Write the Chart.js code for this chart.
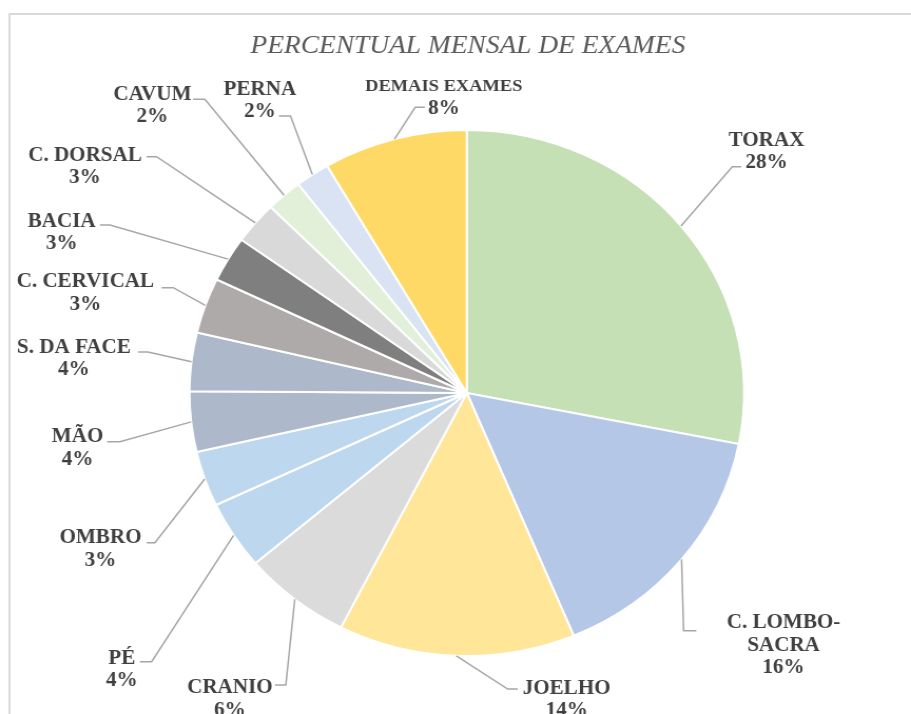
<!DOCTYPE html>
<html>
<head>
<meta charset="utf-8">
<script src="https://cdn.jsdelivr.net/npm/chart.js@4/dist/chart.umd.min.js"></script>
<style>
  html, body { margin: 0; padding: 0; background: #fff; overflow: hidden; }
  #wrap { width: 864px; height: 714px; transform: scaleX(1.0544); transform-origin: 0 0; }
  canvas { display: block; }
</style>
</head>
<body>
<div id="wrap"><canvas id="c" width="864" height="714"></canvas></div>
<script>
// ---- data ----
const titleText = 'PERCENTUAL MENSAL DE EXAMES';
const categories = ['TORAX', 'C. LOMBO-SACRA', 'JOELHO', 'CRANIO', 'PÉ', 'OMBRO', 'MÃO',
  'S. DA FACE', 'C. CERVICAL', 'BACIA', 'C. DORSAL', 'CAVUM', 'PERNA', 'DEMAIS EXAMES'];
const values = [28.1, 15.6, 13.8, 6.3, 4.2, 3.4, 3.7, 3.6, 3.4, 2.8, 2.6, 2.1, 2.0, 8.4];
const colors = ['#C5E0B4', '#B4C7E7', '#FFE699', '#DBDBDB', '#BDD7EE', '#BDD7EE', '#ADB9CA',
  '#ADB9CA', '#AEAAAA', '#7F7F7F', '#D9D9D9', '#E2F0D9', '#DAE3F3', '#FFD966'];

// ---- label layout (offsets from pie centre, px) ----
const labelLayout = [
  {lx: 284.3, ly: -254, ex: 260.3, ey: -226.3, bx: 251.8},
  {lx: 300.4, ly: 228.7, ex: 217.7, ey: 237.7, bx: 205.6, wrap: true},
  {lx: 94.7, ly: 294, ex: 48.3, ey: 296, bx: 38.8},
  {lx: -224.7, ly: 293.7, ex: -182, ey: 292, bx: -171.6},
  {lx: -327.1, ly: 264, ex: -310, ey: 268.7, bx: -298.9},
  {lx: -347.4, ly: 143.7, ex: -303.6, ey: 149.7, bx: -295.8},
  {lx: -369.2, ly: 42.5, ex: -341, ey: 48.7, bx: -329},
  {lx: -372.6, ly: -47, ex: -311.6, ey: -41, bx: -302.4},
  {lx: -361.8, ly: -112.3, ex: -289.4, ey: -105.3, bx: -278.4},
  {lx: -384.2, ly: -172.7, ex: -347.9, ey: -168, bx: -338.4},
  {lx: -362.1, ly: -239, ex: -303.6, ey: -236.3, bx: -294.2},
  {lx: -298.2, ly: -299.7, ex: -259.5, ey: -293.7, bx: -248.4},
  {lx: -196.3, ly: -304.7, ex: -178.2, ey: -277, bx: -167.2},
  {lx: -21.8, ly: -307.7, ex: -39.9, ey: -285.7, bx: -48.9, size: 17.5}
];

const total = values.reduce((a, b) => a + b, 0);

const decor = {
  id: 'decor',
  beforeDraw(chart) {
    const ctx = chart.ctx;
    ctx.save();
    ctx.strokeStyle = '#D9D9D9';
    ctx.lineWidth = 2;
    ctx.beginPath();
    ctx.moveTo(9, 800);
    ctx.lineTo(9, 14);
    ctx.lineTo(900, 14);
    ctx.stroke();
    ctx.restore();
  },
  afterDraw(chart) {
    const ctx = chart.ctx;
    const meta = chart.getDatasetMeta(0);
    const arc0 = meta.data[0];
    const cx = arc0.x, cy = arc0.y;
    ctx.save();
    // title
    ctx.fillStyle = '#595959';
    ctx.font = 'italic 26px "Liberation Serif", "Times New Roman", serif';
    ctx.textAlign = 'center';
    ctx.textBaseline = 'alphabetic';
    ctx.fillText(titleText, cx + 1, 53.3);

    meta.data.forEach((arc, i) => {
      const L = labelLayout[i];
      const mid = (arc.startAngle + arc.endAngle) / 2;
      const r = arc.outerRadius;
      const sx = arc.x + r * Math.cos(mid);
      const sy = arc.y + r * Math.sin(mid);
      ctx.strokeStyle = '#A6A6A6';
      ctx.lineWidth = 1.5;
      ctx.beginPath();
      ctx.moveTo(sx, sy);
      ctx.lineTo(cx + L.bx, cy + L.ey);
      ctx.lineTo(cx + L.ex, cy + L.ey);
      ctx.stroke();

      const pct = Math.round(values[i] / total * 100) + '%';
      let lines;
      if (L.wrap) {
        const k = categories[i].indexOf('-');
        lines = [categories[i].slice(0, k + 1), categories[i].slice(k + 1), pct];
      } else {
        lines = [categories[i], pct];
      }
      ctx.fillStyle = '#404040';
      ctx.textAlign = 'center';
      lines.forEach((t, j) => {
        const size = (j === 0 && L.size) ? L.size : 20;
        ctx.font = 'bold ' + size + 'px "Liberation Serif", "Times New Roman", serif';
        const capC = cy + L.ly + j * 22.5;
        ctx.fillText(t, cx + L.lx, capC + size * 0.662 / 2);
      });
    });
    ctx.restore();
  }
};

new Chart(document.getElementById('c'), {
  type: 'pie',
  data: {
    labels: categories,
    datasets: [{
      data: values,
      backgroundColor: colors,
      borderColor: '#FFFFFF',
      borderWidth: 2,
      hoverOffset: 0,
      radius: 263
    }]
  },
  options: {
    responsive: false,
    devicePixelRatio: 1,
    animation: false,
    layout: { padding: { left: 142.7, right: 121.3, top: 93, bottom: 21 } },
    plugins: {
      legend: { display: false },
      tooltip: { enabled: false },
      title: { display: false }
    }
  },
  plugins: [decor]
});
</script>
</body>
</html>
